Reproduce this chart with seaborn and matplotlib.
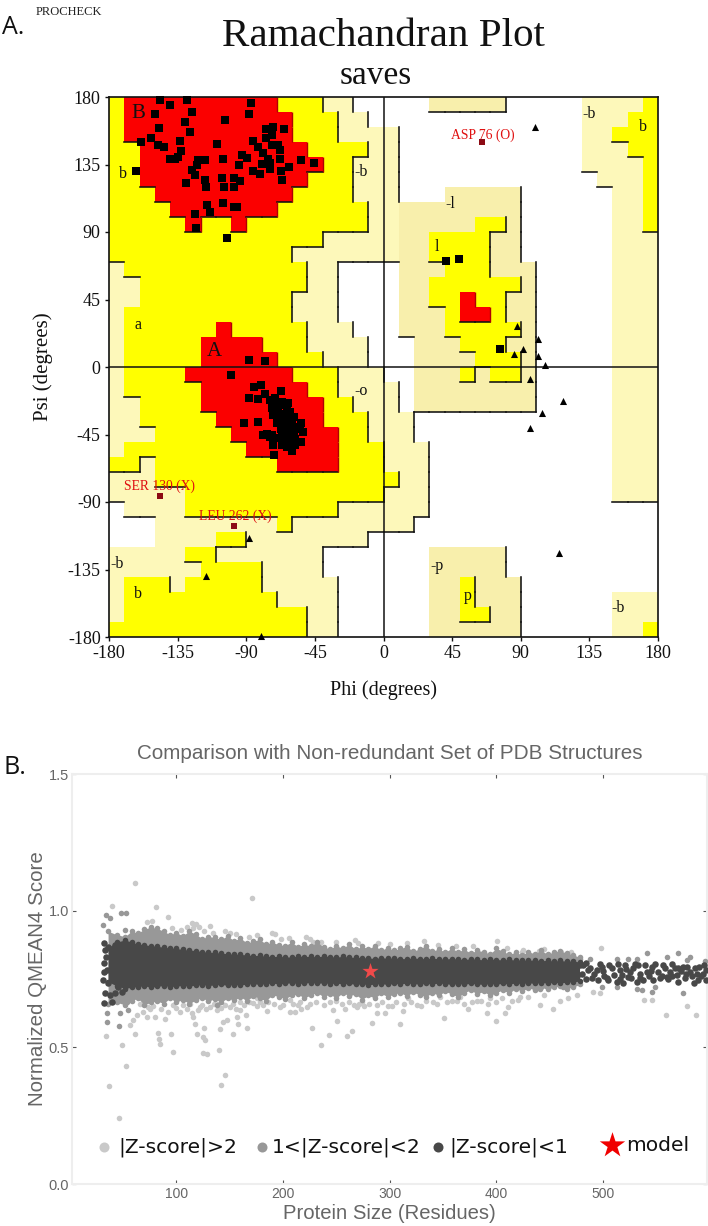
import matplotlib
matplotlib.use("Agg")
import matplotlib.pyplot as plt
from matplotlib.collections import LineCollection
from matplotlib.colors import ListedColormap
import numpy as np
import pandas as pd
import seaborn as sns

# ---------- Panel A: region map, 10 degree cells, psi descending, phi ascending ----------
# '.' disallowed, 'p'/'q' generously allowed, 'y' additionally allowed, 'r' most favoured
REGION_LEFT = [
    "yrrrrrrrrrryyypp..", "yrrrrrrrrrrryyypp.", "yrrrrrrrrrrryyyppp", "yyrrrrrrrrrrryyyyp",
    "yyrrrrrrrrrrrryypp", "yyrrrrrrrrrrryyypp", "yyyrrrrrrrrryyyypp", "yyyyrrrrrrryyyyyyp",
    "yyyyyryyryyyyyyyyp", "yyyyyyyyyyyyyypppp", "yyyyyyyyyyyypppppp", "pyyyyyyyyyyyypp...",
    "ppyyyyyyyyyyypp...", "ppyyyyyyyyyyppp...", "pyyyyyyyyyyyppp...", "pyyyyyyryyyyyppp..",
    "pyyyyyrrrryyypppp.", "pyyyyyrrrrryyyppp.", "pyyyyrrrrrrryyyppp", "pyyyyyrrrrrrryyppp",
    "ppyyyyrrrrrrrryypp", "ppyyyyyrrrrrrryyyp", "pppyyyyyrrrrrrryyp", "pyyyyyyyyrrrrrryyy",
    "yypyyyyyyyyrrrryyy", "pppyyyyyyyyyyyyyyy", "pppppyyyyyyyyyyyyy", ".ppppyyyyyyyyyyppp",
    "...ppppppppypppppp", "...ppppyypppppppp.", "pppppyyppppppp....", "ppppppyyyypppp....",
    "pyyypyyyyyppppp...", "pyyyyyyyyyypppp...", "pyyyyyyyyyyyypp...", "yyyyyyyyyyyyypp...",
]
REGION_RIGHT = [
    "...qqqqq.....ppppy", ".............pppyy", "p............ppyyy", "p............pppyy",
    "p............ppppy", "p.............pppy", "p...qqqqq......ppy", "pqqqqqqqq......ppy",
    "pqqqqqyyq......ppy", "pqqyyyyqq......ppp", "pqqyyyyqq......ppp", ".qqqyyyqqq.....ppp",
    ".qqyyyyyyq.....ppp", ".qqyyryyqq.....ppp", ".qqqyrryqq.....ppp", ".qqqyyyyyq.....ppp",
    "..qqqyyyqq.....ppp", "..qqqqyyyq.....ppp", "..qqqyqyyq.....ppp", "p.qqqqqqqq.....ppp",
    "p.qqqqqqqq.....ppp", "pp.............ppp", "pp.............ppp", "ppp............ppp",
    "ppp............ppp", "ypp............ppp", "ppp............ppp", "ppp...............",
    "pp................", "..................", "...qqqqq..........", "...qqqqq..........",
    "...qqyqqq.........", "...qqyqqq......ppp", "...qqyyqq......ppp", "...qqqqqq......ppy",
]
REGION_CODES = [".", "p", "q", "y", "r"]
REGION_RANK = {".": 0, "p": 1, "q": 1, "y": 2, "r": 3}
REGION_COLORS = ["#ffffff", "#fdf8ba", "#f8efac", "#ffff00", "#fb0000"]

SQUARE_PHI = [-146.6, -140, -128.7, -150, -125.6, -87, -88, -130, -103.7, -147.5, -126.7, -77.3, -72.3, -65.5,
              -152.5, -159, -133.7, -148, -144, -109, -85.6, -77.3, -73.4, -82, -73.4, -69, -67.9, -133,
              -134.6, -140, -137, -121.5, -117, -105, -92.6, -89.8, -78.8, -75.5, -67.9, -54.3, -45.6, -95,
              -80, -74.4, -62, -162, -122.5, -125.8, -123.6, -85.4, -81, -74.4, -67.2, -66.4, -117, -105.7,
              -98, -94, -129.5, -116.4, -104.4, -98, -105, -115.5, -113.8, -98, -95.9, -123.4, -123, -102.7,
              -88.4, -78,
              -99.8, -85, -80.4, -67, -88, -82, -77.7, -91.5, -82, -54.3, -54.3, -71.8, -78.8, -72.3, -59.8, -52.6,
              -74.4, -71, -66.8, -62.4, -73.4, -69, -63.5, -61.3, -72.3, -67.9, -63.5, -60.2, -70, -65.7, -61.3,
              -58, -54.8, -66.8, -62.4, -59.2, -73.4, -70, -64.6, -61.3, -66.8, -63.5, -74.4, -76.6,
              -71, -67, -63, -71, -67, -62, -69, -65, -61, -59, -67, -63, -59, -56, -65, -61, -58, -63, -58,
              40.8, 49.7, 76.4]
SQUARE_PSI = [178, 174.7, 178, 168.7, 170, 176, 169, 163.6, 165, 159.6, 157, 158.7, 160, 158.4,
              153, 150, 151, 148, 146.7, 148.5, 150.7, 153, 155, 146.4, 148, 148, 144.7, 144,
              140, 138.7, 138.7, 138, 138, 138.4, 141.3, 139.6, 142.5, 139, 139, 138, 135.8, 134.9,
              135.3, 135.8, 133.6, 130.9, 134.7, 131.3, 128, 130.7, 129, 131.8, 131, 124.7, 125, 125.8,
              125.8, 124, 122.9, 119.8, 120, 119.8, 109.3, 108, 103.6, 106.9, 106.4, 102, 92.7, 86,
              5, 4,
              -5.3, -13.6, -12, -16, -20.4, -21.3, -18, -37.6, -36.4, -37.6, -50.2, -58.7, -45.3, -52, -55.8, -43,
              -22, -20.9, -23, -24.2, -27.6, -27.6, -28.7, -29.8, -32, -33, -34.2, -35.3, -37.6, -38.7, -39.8,
              -40.9, -39.8, -43, -44.2, -45.3, -45.3, -47.5, -48.7, -49.8, -52, -53.6, -46.4, -44.7,
              -23, -25, -27, -30, -31, -32, -35, -36, -37, -33, -41, -42, -43, -41, -47, -48, -48, -52, -52,
              70.7, 72, 12]
TRIANGLE_PHI = [99.4, 87.8, 101.5, 91.7, 85.6, 101.1, 105.9, 96.3, 117.5, 104, 95.9, 115.3, -88, -116.4, -80.4]
TRIANGLE_PSI = [160, 27.3, 18.7, 11.8, 8.5, 7.6, 1.1, -8.2, -22.4, -30.9, -40.7, -123.8, -114, -139.3, -179]
OUTLIER_PHI = [64.6, -146.5, -98]
OUTLIER_PSI = [150, -86, -106]
OUTLIER_NAMES = ["ASP 76 (O)", "SER 130 (X)", "LEU 262 (X)"]
OUTLIER_LABEL_PHI = [65, -146.6, -97.4]
OUTLIER_LABEL_PSI = [154.7, -79.3, -99.3]

REGION_LABELS = ["B", "b", "a", "A", "-b", "-b", "b", "-l", "l", "-o", "-b", "b", "-p", "p", "-b"]
REGION_LABEL_PHI = [-161, -171, -161, -111, -15, 135, 170, 44, 35, -15, -175, -161, 35, 55, 154]
REGION_LABEL_PSI = [169, 129, 28, 10, 130, 169, 160, 109, 80, -16, -131, -151, -133, -153, -161]
DEG_TICKS = [-180, -135, -90, -45, 0, 45, 90, 135, 180]

# ---------- Panel B ----------
EDGE_X = [36, 44, 52, 58, 64, 70, 76, 82, 88, 94, 100, 106, 112, 118, 124, 130, 136, 142, 148, 154, 160, 166, 172, 178,
          184, 190, 196, 202, 208, 214, 220, 226, 232, 238, 244, 250, 256, 262, 268, 274, 280, 286, 292, 298, 304, 310,
          316, 322, 328, 334, 340, 346, 352, 358, 364, 370, 376, 382, 388, 394, 400, 406, 412, 418, 424, 430, 436, 442,
          448, 454, 460, 466, 472, 478]
MID_UP = [.925, .912, .905, .925, .918, .932, .94, .935, .925, .912, .92, .908, .925, .915, .898, .905, .902, .895,
          .908, .89, .9, .882, .888, .895, .878, .885, .875, .872, .885, .868, .878, .87, .885, .868, .86, .872, .862,
          .878, .858, .87, .86, .872, .855, .865, .855, .862, .868, .852, .86, .872, .852, .86, .848, .862, .85, .858,
          .845, .855, .85, .842, .862, .852, .84, .848, .838, .85, .842, .855, .84, .85, .852, .845, .838, .83]
MID_LO = [.66, .665, .655, .67, .68, .655, .665, .67, .66, .68, .665, .675, .66, .672, .682, .668, .678, .665,
          .68, .672, .685, .67, .688, .68, .67, .692, .685, .678, .69, .695, .68, .692, .70, .685, .695, .68, .70,
          .688, .695, .675, .69, .68, .698, .685, .695, .70, .688, .702, .692, .685, .70, .69, .705, .695, .685, .70,
          .71, .695, .705, .69, .70, .71, .698, .715, .705, .718, .71, .72, .712, .72, .725, .715, .72, .73]
DARK_UP = [.865, .885, .893, .885, .878, .875, .872, .87, .866, .864,
           .862, .858, .856, .854, .85, .848, .847, .845, .842, .841,
           .84, .838, .835, .837, .833, .832, .833, .831, .83, .834,
           .832, .833, .831, .834, .832, .83, .833, .83, .829, .828,
           .827, .825, .828, .826, .827, .825, .824, .827, .825, .824,
           .826, .824, .823, .825, .823, .821, .824, .822, .82, .823,
           .821, .82, .822, .819, .82, .818, .82, .817, .818, .816,
           .818, .815, .816, .812]
DARK_LO = [.74, .725, .715, .72, .722, .725, .72, .723, .726, .722,
           .724, .726, .724, .727, .729, .726, .728, .73, .727, .729,
           .728, .731, .733, .73, .733, .735, .732, .734, .736, .733,
           .735, .737, .734, .736, .733, .735, .732, .734, .73, .732,
           .729, .731, .733, .73, .734, .732, .735, .733, .731, .734,
           .732, .735, .733, .73, .733, .731, .734, .732, .73, .733,
           .731, .734, .732, .735, .733, .736, .734, .737, .735, .738,
           .736, .738, .74, .742]

LIGHT_X = [61.3, 170.6, 40, 81, 92.6, 114.4, 131.6, 72.3, 77, 121, 150, 189.4, 192.5, 225.3, 228.5, 267.5,
           49, 53, 37.3, 46.6, 61.3, 34, 82.6, 84, 84.8, 95, 97.3, 119, 125.4, 127, 125.4, 129.1, 140.4, 145.4,
           141.6, 141, 144, 147.2, 152.9, 166, 158.2, 157.2, 159.7, 165.4, 184.7, 197.2, 206.6, 211, 217, 227,
           236, 243.1, 260.3, 264.4, 250.3, 258.1, 246.6,
           56.6, 59.8, 62.9, 69.1, 72.3, 73.8, 80, 89.4, 97.2, 103.5, 114.4, 116, 117.6, 122.2, 126, 131.6,
           139.4, 137.9, 150.4, 159.7, 172.2, 175.3, 178.5, 206.6, 214.4, 222.2,
           332, 400.3, 423.7, 440, 497.7, 289.4, 461,
           283.4, 309.7, 351.2, 399.3, 287.8, 295.6, 312.8, 329, 373.7, 390.9, 408, 411.2, 440.9, 453.4, 459.6,
           467.4, 475.2, 538.3, 545.5, 558.6, 579, 586.8, 269, 273.7, 301.9, 317.5, 340.9, 362.8, 381.5, 422.1,
           420.6, 394, 347, 366, 490.8, 497,
           66, 75, 78, 86, 92, 100, 106, 110, 113, 120, 124, 128, 135, 142, 146, 153, 156, 163, 168, 176, 181, 186,
           192, 200, 209, 216, 225, 231, 238, 244, 250, 255, 262, 267, 271, 276, 281, 288, 293, 298, 306, 313, 320,
           326, 334, 344, 354, 358, 370, 377, 386, 392, 400, 405, 415, 430, 445,
           96, 104, 110, 116, 118, 126, 134, 146, 156, 168, 176, 198, 206, 222, 236, 250, 270, 300, 316, 345, 362,
           378, 410, 425, 445, 470]
LIGHT_Y = [1.10, 1.047, 1.017, 1.012, .978, .956, .945, .96, .963, .939, .917, .917, .914, .898, .886, .892,
           .508, .432, .36, .243, .548, .541, .551, .532, .512, .548, .484, .548, .538, .526, .478, .474, .492, .397,
           .361, .567, .594, .6, .548, .571, .587, .612, .636, .618, .634, .648, .63, .63, .639, .571,
           .508, .546, .541, .56, .597, .639, .636,
           .581, .60, .618, .63, .612, .648, .612, .602, .654, .63, .624, .612, .587, .648, .569, .648,
           .658, .636, .648, .667, .661, .679, .667, .673, .654, .648,
           .89, .889, .85, .853, .862, .88, .85,
           .59, .586, .609, .597, .626, .626, .634, .651, .639, .626, .626, .646, .654, .642, .67,
           .679, .691, .673, .673, .62, .651, .62, .648, .667, .651, .679, .667, .67, .67, .685,
           .675, .679, .685, .685, .703, .697,
           .66, .64, .65, .64, .63, .645, .655, .64, .66, .635, .655, .64, .66, .645, .655, .66, .64, .655, .665, .65,
           .655, .665, .66, .655, .66, .665, .66, .665, .655, .665, .67, .66, .665, .655, .66, .65, .66, .655, .665,
           .65, .665, .66, .665, .655, .67, .66, .665, .67, .66, .665, .67, .66, .665, .68, .67, .685, .69,
           .935, .93, .94, .935, .95, .925, .92, .925, .915, .905, .91, .895, .9, .905, .885, .885, .88, .878, .88,
           .875, .872, .87, .865, .855, .86, .85]
MID_X = [34.1, 37.9, 31.6, 48.2, 52.9, 52, 35.4, 34.8, 47.3, 46.6, 55.1, 53.5, 80, 91, 137.9,
         478.4, 487.7, 512.7, 523.7, 531.5, 540.8, 559.6, 570.5, 581.5, 595.5, 578.3,
         531.5, 536.1, 512.7, 575.2, 548.6, 545.5, 462.7, 440.9, 398.7, 498.7]
MID_Y = [.984, .972, .947, .99, .992, .931, .593, .624, .624, .578, .636, .667, .679, .685, .654,
         .825, .825, .825, .825, .822, .844, .831, .844, .831, .817, .819,
         .715, .709, .722, .697, .722, .703, .722, .712, .703, .722]
DARK_X = [32.3, 34.1, 36.3, 39.5, 32.3, 42.6, 44.1, 31.6, 36.3, 41, 45.7, 33.2, 37.9, 42.6, 48.8, 32.6, 39.5,
          52, 53.5, 33.2, 41, 47.3, 35.4, 32.3, 42.6,
          481.5, 486.2, 489.3, 494, 498.7, 503.3, 508, 512.7, 515.8, 520.5, 523.7, 528.3, 533, 537.7, 540.8,
          545.5, 547.1, 551.8, 556.5, 562.7, 567.4, 570.5, 575.2, 576.8, 581.5, 586.1, 589.3, 593.9, 596.4,
          495.5, 519, 531.5, 559.6, 587.7,
          484, 492, 497, 501, 506, 510, 514, 518, 522, 526, 530, 535, 539, 543, 549, 553, 558, 561, 565, 569,
          573, 579, 583, 585, 590, 592, 595, 597, 476, 478, 480, 484, 474, 488, 500, 505, 516, 525, 535, 545,
          555, 565, 578, 570]
DARK_Y = [.88, .831, .868, .807, .807, .874, .819, .746, .734, .752, .722, .697, .691, .697, .703, .661, .667,
          .74, .807, .856, .844, .856, .783, .776, .776,
          .801, .783, .752, .783, .795, .752, .789, .74, .783, .801, .758, .789, .801, .746, .776,
          .795, .746, .776, .801, .776, .789, .74, .795, .752, .776, .789, .746, .77, .783,
          .746, .734, .74, .758, .77,
          .81, .77, .805, .76, .8, .765, .805, .765, .785, .755, .805, .77, .8, .76, .805, .755, .79, .75, .805, .765,
          .78, .795, .76, .735, .795, .76, .8, .745, .76, .8, .77, .75, .79, .79, .78, .745, .75, .775, .755, .78,
          .76, .76, .77, .79]
MODEL_X = [281.5]
MODEL_Y = [.78]
QM_XTICKS = [100, 200, 300, 400, 500]
QM_YTICKS = [0.0, 0.5, 1.0, 1.5]
LEGEND_NAMES = ["|Z-score|>2", "1<|Z-score|<2", "|Z-score|<1", "model"]
LEGEND_DOT_X = [32.2, 180.3, 345, 508]
LEGEND_TEXT_X = [45.4, 189.7, 355.7, 521.5]

LIGHT, MID, DARK = "#c9c9c9", "#989898", "#484848"
TXT = "#666666"

sns.set_theme(style="white")
W, H = 708, 1226
fig = plt.figure(figsize=(W / 100, H / 100), dpi=100, facecolor="white")


def box(l, t, r, b):
    return [l / W, 1 - b / H, (r - l) / W, (b - t) / H]


# ---------------- Panel A ----------------
ax_h = fig.add_axes(box(109, 97, 658, 637))
rows = [a + b for a, b in zip(REGION_LEFT, REGION_RIGHT)]
grid = np.array([[REGION_CODES.index(ch) for ch in row] for row in rows])
rank = np.array([[REGION_RANK[ch] for ch in row] for row in rows])
sns.heatmap(grid, ax=ax_h, cmap=ListedColormap(REGION_COLORS), vmin=-0.5, vmax=4.5, cbar=False,
            xticklabels=False, yticklabels=False, linewidths=0)
ax_h.set_xticks([])
ax_h.set_yticks([])
ax_h.set_xlabel("")
ax_h.set_ylabel("")
black, darkred = [], []
for r in range(rank.shape[0]):
    for c in range(rank.shape[1]):
        if r + 1 < rank.shape[0] and rank[r, c] > rank[r + 1, c]:
            black.append([(c, r + 1), (c + 1, r + 1)])
        if c + 1 < rank.shape[1] and rank[r, c] > rank[r, c + 1]:
            (darkred if rank[r, c] == 3 else black).append([(c + 1, r), (c + 1, r + 1)])
ax_h.add_collection(LineCollection(black, colors="#111111", linewidths=1.15, capstyle="projecting"))
ax_h.add_collection(LineCollection(darkred, colors="#b00000", linewidths=1.0))

ax = fig.add_axes(box(109, 97, 658, 637), facecolor="none")
ax.set_xlim(-180, 180)
ax.set_ylim(-180, 180)
ax.axhline(0, color="#111111", lw=1.1, zorder=1)
ax.axvline(0, color="#111111", lw=1.1, zorder=1)
sns.scatterplot(x=SQUARE_PHI, y=SQUARE_PSI, marker="s", s=32, color="black", linewidth=0, ax=ax, zorder=3, clip_on=False)
sns.scatterplot(x=TRIANGLE_PHI, y=TRIANGLE_PSI, marker="^", s=26, color="black", linewidth=0, ax=ax, zorder=3, clip_on=False)
sns.scatterplot(x=OUTLIER_PHI, y=OUTLIER_PSI, marker="s", s=24, color="#8c0a14", linewidth=0, ax=ax, zorder=3)
SERIF = "Liberation Serif"
for name, x, y in zip(OUTLIER_NAMES, OUTLIER_LABEL_PHI, OUTLIER_LABEL_PSI):
    ax.text(x, y, name, color="#e01010", family=SERIF, fontsize=9.8, ha="center", va="center", zorder=4)
for name, x, y in zip(REGION_LABELS, REGION_LABEL_PHI, REGION_LABEL_PSI):
    ax.text(x, y, name, color="#111111", family=SERIF, fontsize=15 if name in "AB" else 11.5, ha="center", va="center", zorder=4)
ax.set_xticks(DEG_TICKS)
ax.set_yticks(DEG_TICKS)
ax.set_xticklabels([str(v) for v in DEG_TICKS], family=SERIF, fontsize=13, color="#111111")
ax.set_yticklabels([str(v) for v in DEG_TICKS], family=SERIF, fontsize=13, color="#111111")
ax.tick_params(length=3, width=1, color="#111111", pad=3, bottom=True, left=True)
for s in ax.spines.values():
    s.set_visible(True)
    s.set_color("#111111")
    s.set_linewidth(1.2)
ax.set_xlabel("Phi (degrees)", family=SERIF, fontsize=14.5, color="#111111")
ax.set_ylabel("Psi (degrees)", family=SERIF, fontsize=15, color="#111111", va="center")
ax.xaxis.set_label_coords(0.5, -43 / 540)
ax.yaxis.set_label_coords(-66 / 549, 0.5)

fig.text(383 / W, 1 - 36 / H, "Ramachandran Plot", family=SERIF, fontsize=29.5, color="#111111", ha="center", va="center")
fig.text(376 / W, 1 - 76 / H, "saves", family=SERIF, fontsize=24, color="#111111", ha="center", va="center")
fig.text(2 / W, 1 - 28 / H, "A.", family="Open Sans", fontsize=18, color="#111111", ha="left", va="center")
fig.text(3 / W, 1 - 768 / H, "B.", family="Open Sans", fontsize=18, color="#111111", ha="left", va="center")
fig.text(36 / W, 1 - 12 / H, "PROCHECK", family=SERIF, fontsize=9, color="#222222", ha="left", va="center")

# ---------------- Panel B ----------------
bx = fig.add_axes(box(72, 774, 707, 1184), facecolor="white")
SANS = "Liberation Sans"
band = pd.DataFrame({"x": EDGE_X, "du": DARK_UP, "dl": DARK_LO, "mu": MID_UP, "ml": MID_LO})
PT = 16
sns.scatterplot(x=LIGHT_X, y=LIGHT_Y, color=LIGHT, s=PT, linewidth=0, ax=bx, zorder=2)
bx.fill_between(band["x"], band["ml"], band["mu"], color=MID, lw=0, zorder=3)
sns.scatterplot(x=MID_X, y=MID_Y, color=MID, s=PT, linewidth=0, ax=bx, zorder=3)
sns.scatterplot(data=band, x="x", y="mu", color=MID, s=PT, linewidth=0, ax=bx, zorder=3)
sns.scatterplot(data=band, x="x", y="ml", color=MID, s=PT, linewidth=0, ax=bx, zorder=3)
bx.fill_between(band["x"], band["dl"], band["du"], color=DARK, lw=0, zorder=4)
sns.scatterplot(data=band, x="x", y="du", color=DARK, s=PT, linewidth=0, ax=bx, zorder=4)
sns.scatterplot(data=band, x="x", y="dl", color=DARK, s=PT, linewidth=0, ax=bx, zorder=4)
sns.scatterplot(x=DARK_X, y=DARK_Y, color=DARK, s=PT + 6, linewidth=0, ax=bx, zorder=4)
sns.scatterplot(x=MODEL_X, y=MODEL_Y, marker="*", s=150, color="#f04a4a", linewidth=0, ax=bx, zorder=5)

bx.set_xlim(2.2, 597.5)
bx.set_ylim(0, 1.5)
bx.set_xticks(QM_XTICKS)
bx.set_yticks(QM_YTICKS)
bx.set_xticklabels([str(v) for v in QM_XTICKS], family=SANS, fontsize=10, color=TXT)
bx.set_yticklabels([f"{v:.1f}" for v in QM_YTICKS], family=SANS, fontsize=10.5, color=TXT)
bx.tick_params(direction="in", length=3, width=0.8, color="#555555", top=True, right=True, bottom=True, left=True, pad=2)
for s in bx.spines.values():
    s.set_visible(True)
    s.set_color("#eeeeee")
    s.set_linewidth(1.5)
bx.set_xlabel("Protein Size (Residues)", family=SANS, fontsize=14.6, color=TXT, labelpad=2)
bx.set_ylabel("Normalized QMEAN4 Score", family=SANS, fontsize=14.8, color=TXT, labelpad=1)
bx.set_title("Comparison with Non-redundant Set of PDB Structures", family=SANS, fontsize=14.9, color=TXT, pad=11)

leg_y = .135
colors = [LIGHT, MID, DARK]
for i, c in enumerate(colors):
    bx.scatter([LEGEND_DOT_X[i]], [leg_y], s=52, color=c, linewidth=0, zorder=6)
bx.scatter([LEGEND_DOT_X[3]], [leg_y + .007], marker="*", s=370, color="#f00000", linewidth=0, zorder=6)
for name, x in zip(LEGEND_NAMES, LEGEND_TEXT_X):
    bx.text(x, leg_y + (.005 if name == "model" else 0), name, family="DejaVu Sans", fontsize=14.6, color="#111111", ha="left", va="center", zorder=6)

fig.savefig("out.png", dpi=100)
